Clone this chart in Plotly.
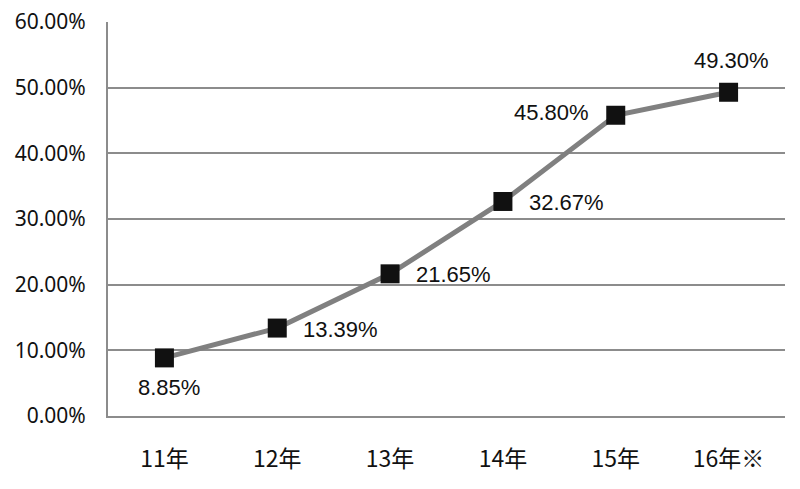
import plotly.graph_objects as go

years = ['11年', '12年', '13年', '14年', '15年', '16年※']
rates = [8.85, 13.39, 21.65, 32.67, 45.80, 49.30]
label_side = ['below', 'right', 'right', 'right', 'left', 'above']
y_ticks = [0, 10, 20, 30, 40, 50, 60]

# the page body has an 8px margin, so the plot box is shifted back by that much
fig = go.Figure()

fig.add_trace(go.Scatter(
    x=years,
    y=rates,
    mode='lines+markers',
    line=dict(color='#808080', width=5),
    marker=dict(symbol='square', size=19, color='#111111'),
    cliponaxis=False,
    showlegend=False
))

# value labels next to each marker
for yr, v, side in zip(years, rates, label_side):
    a = dict(x=yr, y=v, text=f'{v:.2f}%', showarrow=False,
             font=dict(family='Liberation Sans, Arial', size=22, color='#111111'))
    if side == 'right':
        a.update(xanchor='left', yanchor='middle', xshift=24, yshift=-1)
    elif side == 'left':
        a.update(xanchor='right', yanchor='middle', xshift=-25, yshift=3)
    elif side == 'above':
        a.update(xanchor='center', yanchor='middle', xshift=3, yshift=32)
    else:
        a.update(xanchor='center', yanchor='middle', xshift=5, yshift=-30)
    fig.add_annotation(**a)

fig.update_layout(
    width=800,
    height=489,
    margin=dict(l=100, r=23, t=14, b=81),
    plot_bgcolor='white',
    paper_bgcolor='white',
    font=dict(family='Noto Sans CJK JP, Noto Sans', size=23, color='#111111'),
    xaxis=dict(
        type='category',
        range=[-0.5, len(years) - 0.5],
        automargin=False,
        showgrid=False,
        showline=True,
        linecolor='#8c8c8c',
        linewidth=2,
        ticks='',
        ticklabelstandoff=21,
        tickfont=dict(size=23)
    ),
    yaxis=dict(
        range=[0, 60],
        automargin=False,
        tickvals=y_ticks,
        ticktext=[f'{v:.2f}%' for v in y_ticks],
        ticklabeloverflow='allow',
        showgrid=True,
        gridcolor='#8c8c8c',
        gridwidth=2,
        showline=True,
        linecolor='#8c8c8c',
        linewidth=2,
        zeroline=False,
        ticks='',
        ticklabelstandoff=16,
        tickfont=dict(family='Noto Sans', size=21)
    )
)

fig.write_html('out.html')
